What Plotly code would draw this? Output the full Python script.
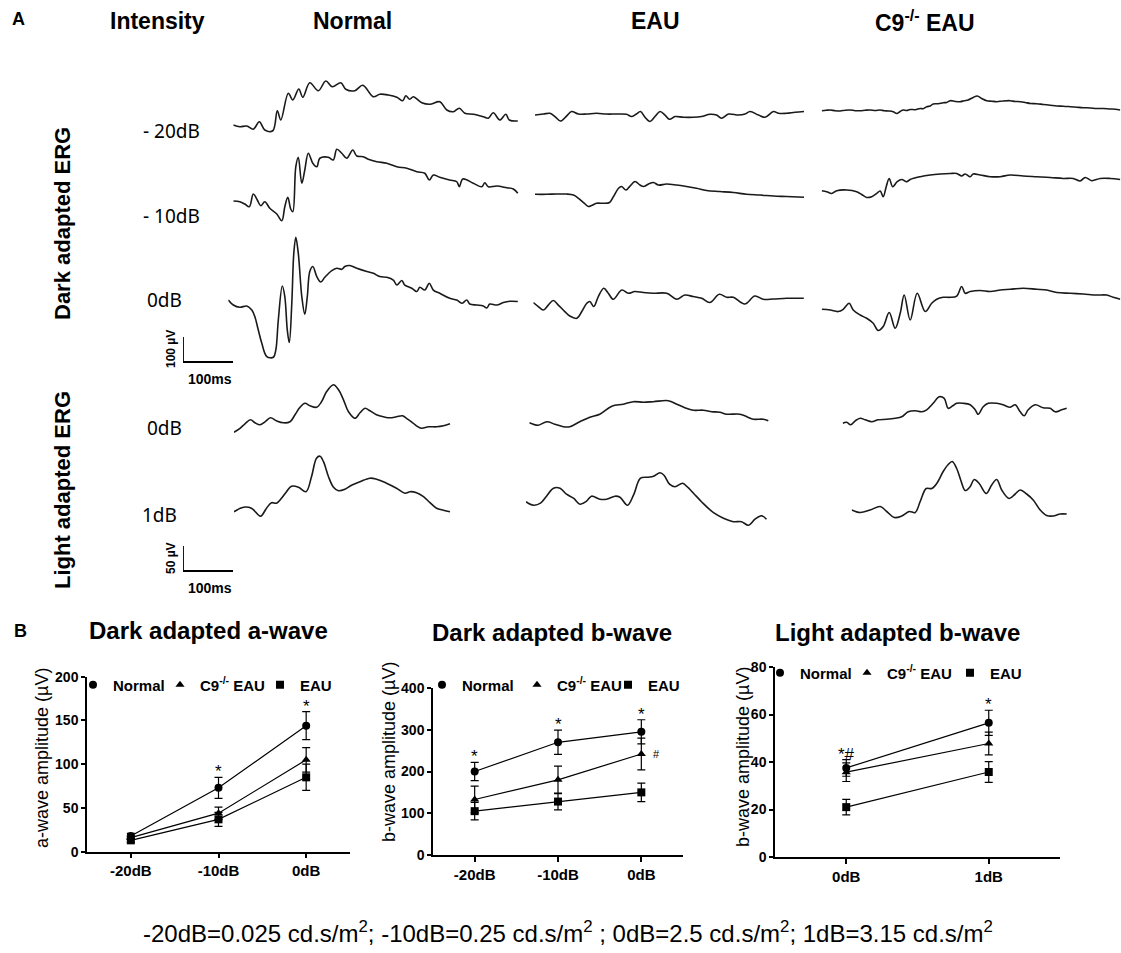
import plotly.graph_objects as go

W, H = 1121, 953
FONT = "Liberation Sans, Arial, sans-serif"
LABEL_FONT = "Noto Sans, Open Sans, sans-serif"
INK = "#1a1a1a"

# ---------------- Panel A: ERG waveforms, (time ms, amplitude uV) ----------------
NORMAL_DARK_M20 = [(0, 0), (13, -7), (27, -4), (40, -17), (52, 13), (63, -20), (79, -23), (88, 57), (95, 20),
                   (110, 127), (119, 100), (131, 144), (139, 111), (153, 169), (170, 137), (185, 176), (198, 153),
                   (215, 169), (225, 143), (243, 137), (259, 159), (280, 113), (293, 123), (310, 120), (327, 111),
                   (339, 97), (345, 117), (353, 103), (360, 113), (377, 89), (393, 83), (413, 93), (427, 60),
                   (440, 53), (452, 67), (463, 47), (480, 43), (500, 33), (510, 27), (520, 49), (533, 20),
                   (545, 43), (552, 20), (569, 16)]
NORMAL_DARK_M10 = [(0, 0), (13, -3), (23, -12), (32, -23), (40, 28), (48, 4), (55, -19), (63, -3), (73, -29),
                   (87, -52), (97, -79), (103, -23), (109, 15), (115, -33), (119, -43), (125, 137), (130, 175),
                   (137, 71), (143, 124), (150, 191), (159, 151), (167, 137), (173, 171), (190, 175), (200, 164),
                   (207, 207), (217, 191), (227, 171), (239, 204), (247, 180), (260, 177), (270, 167), (287, 157),
                   (307, 151), (327, 137), (347, 131), (367, 117), (383, 111), (392, 84), (400, 104), (413, 95),
                   (433, 84), (447, 77), (452, 57), (459, 88), (480, 71), (497, 57), (503, 73), (510, 57),
                   (527, 60), (547, 53), (560, 48), (569, 31)]
NORMAL_DARK_0 = [(0, 13), (10, -7), (23, -16), (37, -11), (47, -27), (53, -53), (60, -107), (67, -160), (77, -213),
                 (90, -216), (95, -187), (100, -67), (108, 69), (113, 27), (118, -107), (122, -157), (127, 0),
                 (131, 200), (135, 264), (140, 200), (147, 27), (153, -44), (158, 27), (163, 127), (169, 147),
                 (177, 107), (185, 85), (193, 104), (207, 131), (217, 140), (227, 136), (233, 147), (243, 151),
                 (257, 140), (277, 127), (290, 120), (303, 107), (317, 104), (330, 93), (337, 73), (347, 91),
                 (353, 73), (367, 60), (377, 47), (383, 64), (393, 53), (402, 80), (410, 53), (423, 40), (443, 20),
                 (457, 13), (467, 0), (477, 13), (483, -3), (497, -7), (510, -11), (517, -19), (523, -3),
                 (537, -7), (550, 3), (563, 8), (579, 7)]
EAU_DARK_M20 = [(0, -3), (17, 1), (30, 4), (40, -9), (51, -27), (63, -7), (73, 11), (87, 1), (103, 1), (123, 4),
                (143, 1), (163, 1), (183, 0), (193, -9), (202, 0), (211, 11), (220, -12), (230, -29), (240, -9),
                (250, 11), (260, -3), (269, -20), (280, -9), (297, -12), (317, -12), (333, -9), (350, 0),
                (363, -3), (373, -16), (387, 1), (407, -3), (420, 1), (430, 11), (447, -3), (460, -12),
                (477, 11), (487, 4), (503, 4), (520, 8), (538, 11)]
EAU_DARK_M10 = [(0, 0), (23, 0), (43, 1), (63, 1), (77, -3), (87, -16), (97, -33), (107, -49), (113, -45),
                (123, -36), (137, -36), (149, -33), (157, -9), (167, 24), (173, 31), (182, 17), (190, 33),
                (200, 51), (210, 37), (217, 31), (227, 41), (237, 47), (247, 37), (263, 41), (283, 37),
                (303, 31), (323, 24), (343, 15), (370, 11), (397, 7), (423, 0), (450, -3), (477, -7),
                (503, -9), (538, -12)]
EAU_DARK_0 = [(0, -17), (10, -33), (20, -47), (30, -27), (40, -9), (50, -27), (63, -53), (73, -71), (87, -80),
              (97, -53), (107, -20), (113, -13), (121, -33), (130, 7), (141, 40), (150, 20), (160, -4), (177, 33),
              (190, 20), (203, 27), (220, 23), (240, 20), (267, 20), (287, -4), (303, 13), (320, 7), (337, 0),
              (353, -17), (372, 16), (387, 4), (400, 4), (423, -23), (443, 9), (460, -4), (480, -3), (507, 0),
              (541, 0)]
C9_DARK_M20 = [(0, 0), (9, 2), (17, 3), (27, 0), (37, -1), (47, 2), (57, 3), (67, 0), (77, 0), (87, 2), (97, 3),
               (107, 1), (117, 3), (125, 0), (133, -1), (143, -4), (150, -11), (157, -3), (163, 3), (170, 1),
               (177, 5), (187, 4), (197, 9), (203, 8), (210, 16), (217, 19), (223, 27), (233, 28), (243, 32),
               (250, 33), (257, 40), (267, 37), (277, 36), (285, 40), (293, 43), (303, 53), (311, 59), (320, 49),
               (330, 40), (340, 38), (350, 36), (363, 39), (377, 40), (387, 37), (397, 36), (407, 33), (417, 29),
               (430, 28), (443, 25), (457, 22), (470, 19), (483, 18), (497, 16), (510, 14), (523, 12), (537, 11),
               (550, 9), (563, 9), (577, 7), (587, 6), (597, 3)]
C9_DARK_M10 = [(0, 0), (10, -4), (20, -11), (30, 0), (50, 3), (70, -4), (80, -15), (90, -27), (100, -24),
               (110, -11), (117, -1), (123, -24), (129, 16), (135, 49), (142, 16), (151, 36), (160, 45),
               (170, 36), (177, 45), (197, 56), (217, 63), (237, 67), (257, 69), (270, 69), (280, 59),
               (287, 67), (297, 56), (303, 67), (317, 63), (337, 56), (357, 56), (377, 63), (403, 59),
               (430, 56), (457, 53), (483, 49), (503, 49), (517, 39), (527, 53), (540, 40), (557, 49),
               (577, 49), (597, 45)]
C9_DARK_0 = [(0, 0), (17, -3), (33, -9), (43, 0), (55, 24), (63, -3), (77, -23), (90, -36), (103, -56),
             (113, -85), (123, -69), (135, -13), (147, -76), (157, -16), (165, 57), (177, -43), (191, 64),
             (207, -9), (220, 24), (230, 40), (243, 48), (257, 48), (270, 53), (280, 91), (287, 64), (297, 71),
             (317, 75), (337, 71), (357, 77), (377, 80), (403, 84), (430, 80), (450, 77), (470, 67), (497, 64),
             (523, 61), (550, 57), (570, 57), (583, 48), (597, 40)]
NORMAL_LIGHT_0 = [(0, 0), (12, 8), (22, 17), (33, 25), (42, 19), (52, 15), (62, 21), (73, 29), (85, 23),
                  (99, 19), (112, 21), (122, 35), (132, 50), (142, 58), (152, 53), (165, 50), (175, 61),
                  (185, 81), (199, 95), (209, 85), (219, 65), (229, 41), (242, 28), (252, 39), (262, 48),
                  (272, 43), (285, 35), (299, 31), (312, 29), (325, 31), (337, 33), (345, 28), (355, 21),
                  (365, 13), (375, 8), (389, 11), (405, 11), (419, 13), (432, 17)]
NORMAL_LIGHT_1 = [(0, 0), (19, 9), (35, 7), (53, -9), (65, 7), (75, 18), (85, 17), (95, 27), (105, 40),
                  (115, 51), (129, 49), (144, 40), (155, 70), (165, 107), (172, 111), (179, 100), (189, 70),
                  (199, 49), (209, 42), (222, 45), (235, 53), (252, 60), (272, 67), (285, 65), (305, 57),
                  (325, 47), (342, 37), (352, 40), (365, 38), (379, 30), (392, 18), (405, 7), (419, 3), (432, 0)]
EAU_LIGHT_0 = [(0, 0), (18, -5), (35, 2), (51, -3), (68, -8), (81, -8), (101, 2), (121, 11), (141, 17),
               (165, 33), (188, 37), (208, 42), (228, 41), (248, 42), (278, 44), (295, 37), (311, 30),
               (328, 25), (348, 25), (365, 22), (381, 21), (395, 17), (421, 17), (435, 12), (448, 7),
               (468, 7), (478, 4)]
EAU_LIGHT_1 = [(0, 0), (15, -7), (29, -3), (41, 11), (55, 27), (68, 27), (81, 15), (95, 7), (108, -5),
               (121, 1), (131, 11), (148, 5), (161, 5), (178, 11), (188, 9), (203, -7), (215, 13), (229, 47),
               (245, 49), (255, 51), (268, 58), (276, 53), (287, 35), (298, 30), (313, 37), (321, 31),
               (335, 17), (351, 0), (375, -22), (395, -33), (415, -40), (431, -40), (445, -47), (458, -35),
               (471, -28), (481, -35)]
C9_LIGHT_0 = [(0, 0), (8, 2), (16, -3), (25, 5), (35, 10), (45, 7), (58, 3), (71, 7), (88, 8), (105, 10),
              (118, 13), (131, 23), (145, 25), (158, 23), (168, 27), (181, 40), (193, 53), (203, 50), (211, 30),
              (220, 35), (228, 40), (241, 40), (255, 37), (265, 27), (271, 18), (281, 33), (291, 40), (308, 40),
              (321, 37), (335, 32), (345, 37), (355, 23), (363, 15), (371, 27), (385, 37), (401, 31),
              (415, 30), (425, 23), (438, 27), (448, 30)]
C9_LIGHT_1 = [(0, 0), (17, -5), (37, 0), (57, 7), (70, -3), (85, -15), (100, -12), (115, -3), (127, -5),
              (137, 17), (149, 43), (160, 43), (170, 53), (183, 77), (193, 91), (201, 97), (210, 83), (218, 60),
              (227, 39), (237, 47), (245, 61), (255, 53), (269, 33), (280, 50), (290, 61), (300, 40), (315, 23),
              (327, 32), (337, 40), (350, 32), (363, 20), (377, 0), (390, -11), (403, -12), (417, -8), (430, -8)]

SCALE_DARK = {"ms": 100, "uv": 100}
SCALE_LIGHT = {"ms": 100, "uv": 50}

# ---------------- Panel B: amplitudes (mean, SEM) ----------------
CATS_DARK = ["-20dB", "-10dB", "0dB"]
CATS_LIGHT = ["0dB", "1dB"]
GROUPS = ["Normal", "C9<sup>-/-</sup> EAU", "EAU"]
A_NORMAL, A_NORMAL_ERR = [18, 73, 144], [3, 12, 16]
A_C9, A_C9_ERR = [16, 44, 105], [2, 7, 14]
A_EAU, A_EAU_ERR = [13, 37, 85], [2, 8, 15]
B_NORMAL, B_NORMAL_ERR = [200, 270, 295], [22, 29, 29]
B_C9, B_C9_ERR = [133, 180, 242], [32, 33, 38]
B_EAU, B_EAU_ERR = [105, 128, 150], [21, 20, 22]
L_NORMAL, L_NORMAL_ERR = [37.5, 56.5], [3.5, 5.3]
L_C9, L_C9_ERR = [35.7, 47.8], [3.9, 4.8]
L_EAU, L_EAU_ERR = [21.0, 35.8], [3.3, 4.4]


def fx(px):
    return px / W


def fy(py):
    return 1 - py / H


fig = go.Figure()
layout = {}
annotations = []


def txt(text, x, y, size, bold=False, family=FONT, angle=0, xanchor="center"):
    annotations.append(dict(text=text, x=fx(x), y=fy(y), xref="paper", yref="paper", showarrow=False,
                            xanchor=xanchor, yanchor="middle", textangle=angle,
                            font=dict(family=family, size=size, color="black",
                                      weight="bold" if bold else "normal")))


# ---------- Panel B axes ----------
panelB = [
    # idx, x px span, y px span (top, bottom), y range, dtick, categories, y title, title px pos,
    # legend item x positions, legend y
    (1, (87, 350), (676.7, 851.7), [0, 200], 50, CATS_DARK, "a-wave amplitude (\u00b5V)", (42, 758),
     [73, 160, 260], 685),
    (2, (433, 683), (688, 855), [0, 400], 100, CATS_DARK, "b-wave amplitude (\u00b5V)", (389, 752),
     [422, 517, 608], 685),
    (3, (775, 1060), (667, 857), [0, 80], 20, CATS_LIGHT, "b-wave amplitude (\u00b5V)", (743, 757),
     [760, 847, 950], 673),
]
for idx, (xa, xb), (yt, yb), yr, dt, cats, ytitle, (tx, ty), legx, legy in panelB:
    s = "" if idx == 1 else str(idx)
    layout["xaxis" + s] = dict(domain=[fx(xa), fx(xb)], anchor="y" + s, type="category",
                               categoryorder="array", categoryarray=cats,
                               range=[-0.5, len(cats) - 0.5], showline=True, linecolor="black",
                               linewidth=1.5, ticks="outside", ticklen=5, tickwidth=1.5, tickcolor="black",
                               tickfont=dict(family=FONT, size=15, color="black", weight="bold"),
                               showgrid=False, zeroline=False)
    layout["yaxis" + s] = dict(domain=[fy(yb), fy(yt)], anchor="x" + s, range=yr, dtick=dt,
                               showline=True, linecolor="black", linewidth=1.5, ticks="outside",
                               ticklen=4, tickwidth=1.5, tickcolor="black",
                               tickfont=dict(family=FONT, size=14, color="black", weight="bold"),
                               showgrid=False, zeroline=False)
    txt(ytitle, tx, ty, 18, angle=-90)
    for g in range(3):
        num = 3 * (idx - 1) + g + 1
        lname = "legend" if num == 1 else f"legend{num}"
        layout[lname] = dict(x=fx(legx[g]), y=fy(legy), xanchor="left", yanchor="middle",
                             orientation="h", bgcolor="rgba(0,0,0,0)", itemwidth=30,
                             font=dict(family=FONT, size=15, color="black", weight="bold"))

symbols = ["circle", "triangle-up", "square"]
series = [
    (1, CATS_DARK, [(A_NORMAL, A_NORMAL_ERR), (A_C9, A_C9_ERR), (A_EAU, A_EAU_ERR)]),
    (2, CATS_DARK, [(B_NORMAL, B_NORMAL_ERR), (B_C9, B_C9_ERR), (B_EAU, B_EAU_ERR)]),
    (3, CATS_LIGHT, [(L_NORMAL, L_NORMAL_ERR), (L_C9, L_C9_ERR), (L_EAU, L_EAU_ERR)]),
]
for idx, cats, data in series:
    s = "" if idx == 1 else str(idx)
    for g, (name, (vals, errs), sym) in enumerate(zip(GROUPS, data, symbols)):
        num = 3 * (idx - 1) + g + 1
        lname = "legend" if num == 1 else f"legend{num}"
        fig.add_trace(go.Scatter(
            x=cats, y=vals, name=name, xaxis="x" + s, yaxis="y" + s, showlegend=False,
            mode="lines+markers", line=dict(color="black", width=1.2),
            marker=dict(symbol=sym, size=8, color="black"),
            error_y=dict(type="data", array=errs, visible=True, color="black", thickness=1.2, width=4),
            cliponaxis=False, hoverinfo="skip"))
        # legend entry (marker only, no data drawn)
        fig.add_trace(go.Scatter(
            x=[None], y=[None], name=name, xaxis="x" + s, yaxis="y" + s, legend=lname,
            mode="markers", marker=dict(symbol=sym, size=8, color="black"), hoverinfo="skip"))

sig = [
    ("", A_NORMAL, A_NORMAL_ERR, CATS_DARK, [1, 2], ["*", "*"]),
    ("2", B_NORMAL, B_NORMAL_ERR, CATS_DARK, [0, 1, 2], ["*", "*", "*"]),
    ("3", L_NORMAL, L_NORMAL_ERR, CATS_LIGHT, [0, 1], ["*#", "*"]),
]
for s, vals, errs, cats, ids, marks in sig:
    for i, m in zip(ids, marks):
        annotations.append(dict(x=cats[i], y=vals[i] + errs[i], xref="x" + s, yref="y" + s, text=m,
                                showarrow=False, yanchor="bottom", yshift=-6,
                                font=dict(family=FONT, size=17, color="black")))
annotations.append(dict(x=CATS_DARK[2], y=B_C9[2], xref="x2", yref="y2", text="#", showarrow=False,
                        xshift=15, font=dict(family=FONT, size=11, color="black")))

# ---------- Panel A waveform axes ----------
TRACES = [
    (NORMAL_DARK_M20, 233.3, 125.0, 4), (NORMAL_DARK_M10, 233.3, 201.0, 4), (NORMAL_DARK_0, 228.3, 303.3, 4),
    (EAU_DARK_M20, 535.0, 114.3, 4), (EAU_DARK_M10, 535.0, 194.3, 4), (EAU_DARK_0, 533.3, 298.3, 4),
    (C9_DARK_M20, 821.7, 110.7, 4), (C9_DARK_M10, 821.7, 190.7, 4), (C9_DARK_0, 821.7, 309.3, 4),
    (NORMAL_LIGHT_0, 234.0, 432.3, 2), (NORMAL_LIGHT_1, 234.0, 511.7, 2),
    (EAU_LIGHT_0, 529.3, 422.7, 2), (EAU_LIGHT_1, 526.0, 501.7, 2),
    (C9_LIGHT_0, 842.7, 423.3, 2), (C9_LIGHT_1, 851.7, 510.0, 2),
]
MS_PER_PX = 2
n = 4
for data, x0, y0, k in TRACES:
    w = min(300, W - x0 - 0.5)
    h = 80
    layout[f"xaxis{n}"] = dict(domain=[fx(x0), fx(x0 + w)], range=[0, w * MS_PER_PX], visible=False,
                               anchor=f"y{n}", fixedrange=True)
    layout[f"yaxis{n}"] = dict(domain=[fy(y0 + h), fy(y0 - h)], range=[-h * k, h * k], visible=False,
                               anchor=f"x{n}", fixedrange=True)
    t, v = zip(*data)
    fig.add_trace(go.Scatter(x=list(t), y=list(v), xaxis=f"x{n}", yaxis=f"y{n}", mode="lines",
                             line=dict(color=INK, width=1.6, shape="spline", smoothing=1.0),
                             showlegend=False, hoverinfo="skip"))
    n += 1

for sc, x0, y0, k in [(SCALE_DARK, 183, 362, 4), (SCALE_LIGHT, 183, 571, 2)]:
    w, h = 70, 40
    layout[f"xaxis{n}"] = dict(domain=[fx(x0), fx(x0 + w)], range=[0, w * MS_PER_PX], visible=False,
                               anchor=f"y{n}", fixedrange=True)
    layout[f"yaxis{n}"] = dict(domain=[fy(y0 + h), fy(y0 - h)], range=[-h * k, h * k], visible=False,
                               anchor=f"x{n}", fixedrange=True)
    fig.add_trace(go.Scatter(x=[0, 0, sc["ms"]], y=[sc["uv"], 0, 0], xaxis=f"x{n}", yaxis=f"y{n}",
                             mode="lines", line=dict(color="black", width=1.8), showlegend=False,
                             hoverinfo="skip", cliponaxis=False))
    n += 1

txt("A", 18, 19, 18, True)
txt("Intensity", 157, 21, 23, True)
txt("Normal", 352, 21, 23, True)
txt("EAU", 655, 21, 23, True)
txt("C9<sup>-/-</sup> EAU", 925, 21, 23, True)
txt("Dark adapted ERG", 62, 224, 22, True, angle=-90)
txt("Light adapted ERG", 62, 490, 22, True, angle=-90)
txt("- 20dB", 171, 131, 19, family=LABEL_FONT)
txt("- 10dB", 171, 216, 19, family=LABEL_FONT)
txt("0dB", 164, 300, 19, family=LABEL_FONT)
txt("0dB", 164, 428, 19, family=LABEL_FONT)
txt("1dB", 159, 515, 19, family=LABEL_FONT)
txt("100 \u00b5V", 171, 349, 12, True, angle=-90)
txt("100ms", 210, 379, 14, True)
txt("50 \u00b5V", 171, 558, 12, True, angle=-90)
txt("100ms", 210, 588, 14, True)
txt("B", 20, 631, 18, True)
txt("Dark adapted a-wave", 208, 630, 24, True)
txt("Dark adapted b-wave", 552, 632, 24, True)
txt("Light adapted b-wave", 897, 632, 24, True)
txt("-20dB=0.025 cd.s/m<sup>2</sup>; -10dB=0.25 cd.s/m<sup>2</sup> ; 0dB=2.5 cd.s/m<sup>2</sup>; "
    "1dB=3.15 cd.s/m<sup>2</sup>", 568, 932, 24)

fig.update_layout(width=W, height=H, margin=dict(l=0, r=0, t=0, b=0, autoexpand=False),
                  paper_bgcolor="white", plot_bgcolor="rgba(0,0,0,0)", annotations=annotations,
                  showlegend=True, font=dict(family=FONT, color="black"), **layout)

fig.write_html("out.html", config={"displayModeBar": False},
               post_script="document.body.style.margin='0';")
